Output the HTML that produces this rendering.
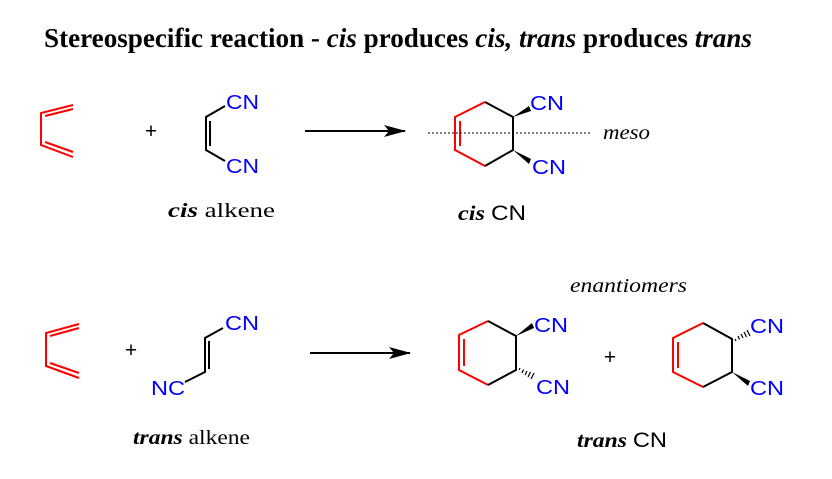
<!DOCTYPE html>
<html><head><meta charset="utf-8"><style>
html,body{margin:0;padding:0;background:#fff;}
svg{display:block;}
.s{font-family:"Liberation Serif",serif;}
.a{font-family:"Liberation Sans",sans-serif;}
</style></head><body>
<svg width="832" height="479" viewBox="0 0 832 479" xmlns="http://www.w3.org/2000/svg">
<defs><marker id="ar" viewBox="0 0 22 12" refX="21" refY="6" markerWidth="22" markerHeight="12" markerUnits="userSpaceOnUse" orient="auto"><path d="M0,0 L22,6 L0,12 L5,6 Z" fill="#000"/></marker></defs>
<text class="s" x="44" y="47" font-size="27" font-weight="bold" textLength="708" lengthAdjust="spacingAndGlyphs">Stereospecific reaction - <tspan font-style="italic">cis</tspan> produces <tspan font-style="italic">cis,</tspan> <tspan font-style="italic">trans</tspan> produces <tspan font-style="italic">trans</tspan></text>

<!-- diene 1 -->
<g stroke="#f00" stroke-width="2" fill="none">
<path d="M73,105 L41,113 L41,145 L73,157"/>
<path d="M45,116 L73,109"/><path d="M45,142 L73,152"/>
</g>
<text class="a" x="151" y="138" font-size="21" text-anchor="middle">+</text>
<!-- cis alkene -->
<g stroke="#000" stroke-width="2" fill="none">
<path d="M225,106 L206,117 L206,150 L225,161"/><path d="M210,121 L210,146"/>
</g>
<text class="a" x="226" y="109" font-size="20" fill="#00f" textLength="33" lengthAdjust="spacingAndGlyphs">CN</text>
<text class="a" x="226" y="173" font-size="20" fill="#00f" textLength="33" lengthAdjust="spacingAndGlyphs">CN</text>
<text class="s" x="168" y="217" font-size="20" textLength="107" lengthAdjust="spacingAndGlyphs"><tspan font-weight="bold" font-style="italic">cis</tspan> alkene</text>
<line x1="305" y1="131" x2="405" y2="131" stroke="#000" stroke-width="2" marker-end="url(#ar)"/>

<!-- cis product -->
<g stroke-width="2" fill="none">
<path d="M485,102 L455,117 L455,150 L485,166" stroke="#f00"/>
<path d="M460,121 L460,146" stroke="#f00"/>
<path d="M485,102 L513,117 L513,150 L485,166" stroke="#000"/>
</g>
<path d="M513,117 L529,106 L531,111 Z" fill="#000"/>
<path d="M513,150 L531,159 L529,164 Z" fill="#000"/>
<text class="a" x="530" y="110" font-size="20" fill="#00f" textLength="34" lengthAdjust="spacingAndGlyphs">CN</text>
<text class="a" x="532" y="174" font-size="20" fill="#00f" textLength="34" lengthAdjust="spacingAndGlyphs">CN</text>
<line x1="428" y1="133" x2="592" y2="133" stroke="#000" stroke-width="1" stroke-dasharray="2,2"/>
<text class="s" x="603" y="139" font-size="20" font-style="italic" textLength="47" lengthAdjust="spacingAndGlyphs">meso</text>
<text class="s" x="458" y="220" font-size="21" textLength="68" lengthAdjust="spacingAndGlyphs"><tspan font-weight="bold" font-style="italic">cis</tspan> <tspan font-family="Liberation Sans,sans-serif">CN</tspan></text>

<text class="s" x="570" y="292" font-size="20" font-style="italic" textLength="117" lengthAdjust="spacingAndGlyphs">enantiomers</text>

<!-- diene 2 -->
<g stroke="#f00" stroke-width="2" fill="none">
<path d="M79,324 L46,333 L46,366 L79,378"/>
<path d="M50,336 L79,328"/><path d="M50,363 L79,373"/>
</g>
<text class="a" x="131" y="357" font-size="21" text-anchor="middle">+</text>
<!-- trans alkene -->
<g stroke="#000" stroke-width="2" fill="none">
<path d="M223,328 L205,338 L205,372 L185,382"/><path d="M209,341 L209,369"/>
</g>
<text class="a" x="225" y="330" font-size="20" fill="#00f" textLength="34" lengthAdjust="spacingAndGlyphs">CN</text>
<text class="a" x="151" y="395" font-size="20" fill="#00f" textLength="34" lengthAdjust="spacingAndGlyphs">NC</text>
<text class="s" x="133" y="444" font-size="20" textLength="117" lengthAdjust="spacingAndGlyphs"><tspan font-weight="bold" font-style="italic">trans</tspan> alkene</text>
<line x1="310" y1="353" x2="410" y2="353" stroke="#000" stroke-width="2" marker-end="url(#ar)"/>

<!-- trans product 1 -->
<g stroke-width="2" fill="none">
<path d="M488,321 L459,335 L459,370 L488,385" stroke="#f00"/>
<path d="M464,339 L464,366" stroke="#f00"/>
<path d="M488,321 L516,336 L516,370 L488,385" stroke="#000"/>
</g>
<path d="M516,336 L532,323 L534,328 Z" fill="#000"/>
<g stroke="#000" stroke-width="1.2">
<line x1="519" y1="370" x2="520" y2="368"/><line x1="522" y1="373" x2="523.5" y2="369.5"/><line x1="525" y1="375" x2="527" y2="371"/><line x1="528" y1="377" x2="530.5" y2="372"/><line x1="531" y1="379" x2="534" y2="373"/>
</g>
<text class="a" x="534" y="332" font-size="20" fill="#00f" textLength="34" lengthAdjust="spacingAndGlyphs">CN</text>
<text class="a" x="536" y="394" font-size="20" fill="#00f" textLength="34" lengthAdjust="spacingAndGlyphs">CN</text>
<text class="a" x="610" y="364" font-size="21" text-anchor="middle">+</text>

<!-- trans product 2 -->
<g stroke-width="2" fill="none">
<path d="M703,323 L673,338 L673,372 L703,387" stroke="#f00"/>
<path d="M678,342 L678,368" stroke="#f00"/>
<path d="M703,323 L732,339 L732,372 L703,387" stroke="#000"/>
</g>
<g stroke="#000" stroke-width="1.2">
<line x1="735" y1="339" x2="736" y2="341"/><line x1="738" y1="336" x2="739.5" y2="339.5"/><line x1="741" y1="334" x2="743" y2="338"/><line x1="744" y1="332" x2="746.5" y2="337"/><line x1="747" y1="330" x2="750" y2="336"/>
</g>
<path d="M732,372 L750,381 L748,386 Z" fill="#000"/>
<text class="a" x="750" y="333" font-size="20" fill="#00f" textLength="34" lengthAdjust="spacingAndGlyphs">CN</text>
<text class="a" x="750" y="395" font-size="20" fill="#00f" textLength="34" lengthAdjust="spacingAndGlyphs">CN</text>

<text class="s" x="577" y="447" font-size="21" textLength="90" lengthAdjust="spacingAndGlyphs"><tspan font-weight="bold" font-style="italic">trans</tspan> <tspan font-family="Liberation Sans,sans-serif">CN</tspan></text>
</svg>
</body></html>
